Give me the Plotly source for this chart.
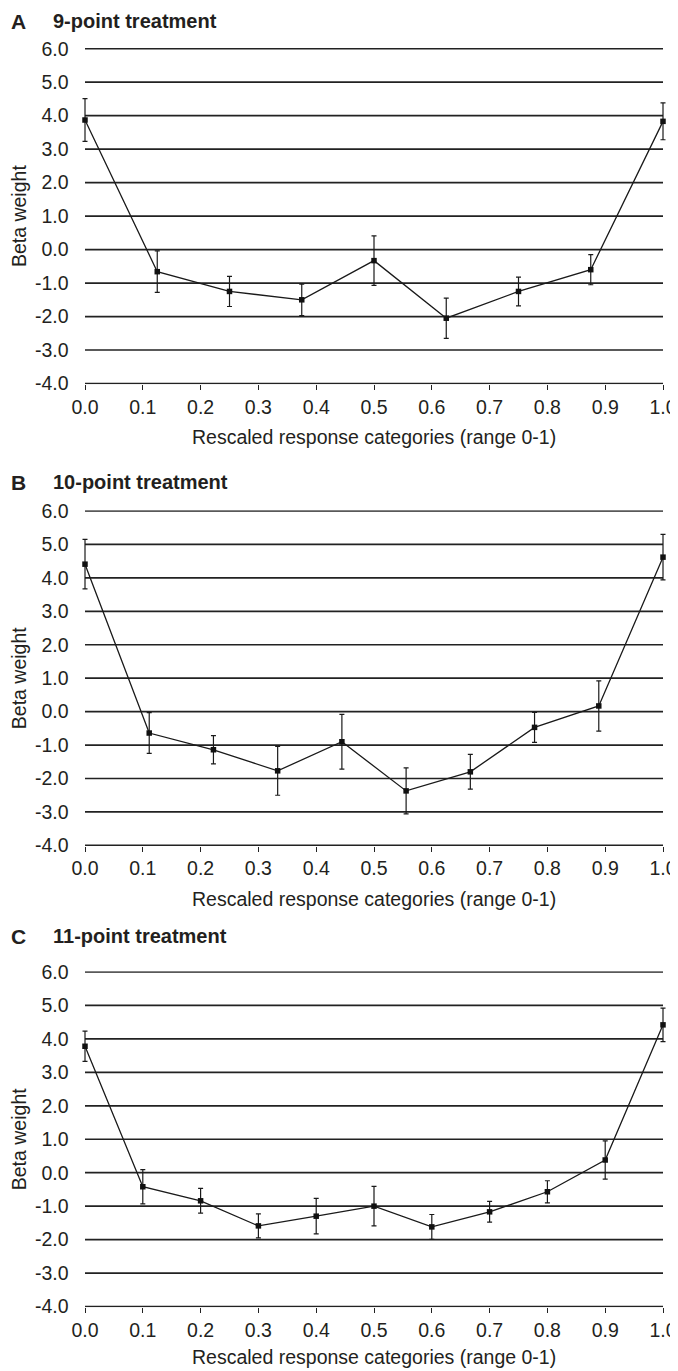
import plotly.graph_objects as go

# ---- data ----
x_a = [i / 8 for i in range(9)]
beta_a = [3.87, -0.66, -1.25, -1.50, -0.33, -2.05, -1.25, -0.60, 3.83]
err_a = [0.64, 0.62, 0.45, 0.47, 0.74, 0.60, 0.43, 0.45, 0.55]

x_b = [i / 9 for i in range(10)]
beta_b = [4.41, -0.64, -1.14, -1.77, -0.90, -2.37, -1.80, -0.47, 0.17, 4.62]
err_b = [0.74, 0.61, 0.42, 0.73, 0.82, 0.69, 0.52, 0.45, 0.75, 0.68]

x_c = [i / 10 for i in range(11)]
beta_c = [3.78, -0.42, -0.84, -1.59, -1.30, -1.00, -1.62, -1.17, -0.57, 0.38, 4.42]
err_c = [0.45, 0.51, 0.37, 0.36, 0.53, 0.59, 0.37, 0.31, 0.33, 0.57, 0.50]

panel_letters = ["A", "B", "C"]
panel_titles = ["9-point treatment", "10-point treatment", "11-point treatment"]
x_title = "Rescaled response categories (range 0-1)"
y_title = "Beta weight"
x_ticks = [i / 10 for i in range(11)]
x_ticklabels = [f"{v:.1f}" for v in x_ticks]
y_ticks = list(range(-4, 7))
y_ticklabels = [f"{v:.1f}" for v in y_ticks]

# ---- layout geometry (screen pixels of the target picture) ----
PAGE_OFF = 8            # the page body margin shifts the figure by 8 px
W, H = 678 - PAGE_OFF, 1371 - PAGE_OFF
FONT = "Liberation Sans, Arial, sans-serif"
TXT = "#231f20"
FS = 19.5
panels_px = [(48.7, 383.5), (511.0, 845.4), (972.0, 1306.5)]
title_y = [21, 482, 936]
xtitle_y = [437, 899, 1357]
x_left, x_right = 85, 663
pad = 0.006  # small x padding so edge error-bar caps are not clipped
ppu = x_right - x_left
y_top = 6.02


def px_x(p):
    return (p - PAGE_OFF) / W


def px_y(p):
    return 1 - (p - PAGE_OFF) / H


fig = go.Figure()
series = [(x_a, beta_a, err_a), (x_b, beta_b, err_b), (x_c, beta_c, err_c)]
for k, (xs, ys, es) in enumerate(series):
    ax = "" if k == 0 else str(k + 1)
    fig.add_trace(go.Scatter(
        x=xs, y=ys, mode="lines+markers",
        xaxis="x" + ax, yaxis="y" + ax,
        line=dict(color="#1a1a1a", width=1.3),
        marker=dict(symbol="square", size=5.5, color="#111"),
        error_y=dict(type="data", array=es, visible=True, color="#1a1a1a",
                     thickness=1.2, width=2.5),
        showlegend=False, cliponaxis=False,
    ))
    top, bot = panels_px[k]
    ppy = (bot - top) / 10.0
    top_adj = top - (y_top - 6) * ppy
    bot_adj = bot + 0.02 * ppy
    xa = dict(domain=[px_x(x_left - pad * ppu), px_x(x_right + pad * ppu)],
              range=[-pad, 1 + pad], anchor="y" + ax, automargin=False,
              tickvals=x_ticks, ticktext=x_ticklabels, ticks="outside", ticklen=5,
              tickcolor="#222", tickwidth=1.2, showline=False,
              showgrid=False, zeroline=False,
              tickfont=dict(family=FONT, size=FS, color=TXT))
    ya = dict(domain=[px_y(bot_adj), px_y(top_adj)], range=[-4.02, y_top],
              anchor="x" + ax, automargin=False,
              tickvals=y_ticks, ticktext=y_ticklabels, ticks="outside", ticklen=8,
              tickcolor="rgba(0,0,0,0)", showgrid=False, zeroline=False, showline=False,
              tickfont=dict(family=FONT, size=FS, color=TXT))
    fig.layout["xaxis" + ax] = xa
    fig.layout["yaxis" + ax] = ya

    # horizontal grid lines spanning exactly 0..1 in data x
    for v in y_ticks:
        fig.add_shape(type="line", xref="x" + ax, yref="y" + ax, x0=0, x1=1, y0=v, y1=v,
                      line=dict(color="#222", width=1.7), layer="below")

    fig.add_annotation(text="<b>" + panel_letters[k] + "</b>", x=px_x(10), y=px_y(title_y[k]),
                       xref="paper", yref="paper", xanchor="left", yanchor="middle",
                       showarrow=False, borderpad=0,
                       font=dict(family=FONT, size=21, color=TXT))
    fig.add_annotation(text="<b>" + panel_titles[k] + "</b>", x=px_x(52), y=px_y(title_y[k]),
                       xref="paper", yref="paper", xanchor="left", yanchor="middle",
                       showarrow=False, borderpad=0,
                       font=dict(family=FONT, size=20, color=TXT))
    fig.add_annotation(text=x_title, x=px_x((x_left + x_right) / 2), y=px_y(xtitle_y[k]),
                       xref="paper", yref="paper", xanchor="center", yanchor="middle",
                       showarrow=False, font=dict(family=FONT, size=FS, color=TXT))
    fig.add_annotation(text=y_title, x=px_x(19), y=px_y((top + bot) / 2),
                       xref="paper", yref="paper", xanchor="center", yanchor="middle",
                       textangle=-90, showarrow=False,
                       font=dict(family=FONT, size=FS, color=TXT))

fig.update_layout(width=W, height=H, margin=dict(l=0, r=0, t=0, b=0),
                  paper_bgcolor="white", plot_bgcolor="white")
fig.write_html("out.html")
